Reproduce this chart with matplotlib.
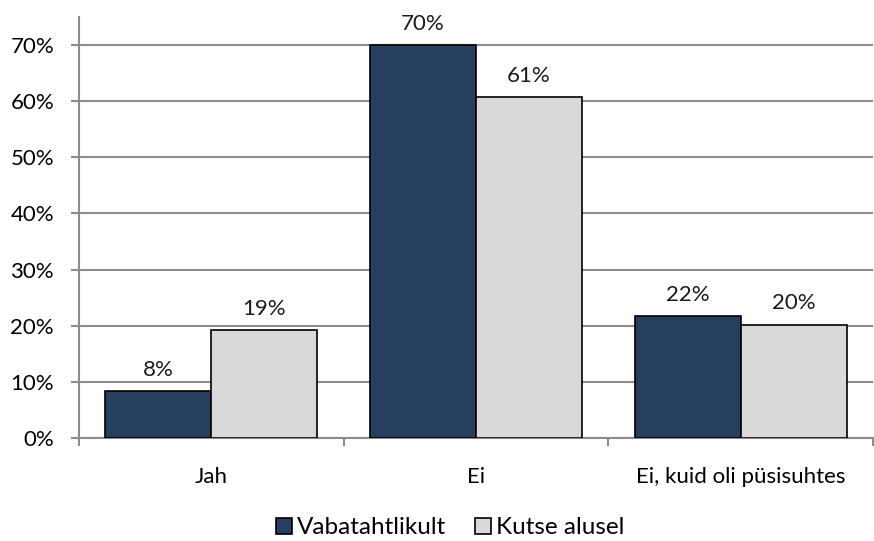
import matplotlib
matplotlib.use("Agg")
import matplotlib.pyplot as plt
import numpy as np

categories = ["Jah", "Ei", "Ei, kuid oli püsisuhtes"]
series_names = ["Vabatahtlikult", "Kutse alusel"]
vabatahtlikult = [8.4, 70.0, 21.7]
kutse_alusel = [19.2, 60.7, 20.2]
labels_v = ["8%", "70%", "22%"]
labels_k = ["19%", "61%", "20%"]
yticks = [0, 10, 20, 30, 40, 50, 60, 70]

plt.rcParams['font.family'] = ['Lato', 'DejaVu Sans']
FS = 16

fig = plt.figure(figsize=(8.74, 5.41), dpi=100)
ax = fig.add_axes([79/874, 1 - 438/541, (873-79)/874, (438-17)/541])

x = np.arange(len(categories))
w = 0.4
c1, c2 = "#263f5f", "#d9d9d9"
b1 = ax.bar(x - w/2, vabatahtlikult, w, color=c1, edgecolor="black", linewidth=1.2, zorder=3, label=series_names[0])
b2 = ax.bar(x + w/2, kutse_alusel, w, color=c2, edgecolor="black", linewidth=1.2, zorder=3, label=series_names[1])

for bars, labs in ((b1, labels_v), (b2, labels_k)):
    for r, t in zip(bars, labs):
        ax.annotate(t, (r.get_x() + r.get_width()/2, r.get_height()), xytext=(0, 8),
                    textcoords="offset points", ha="center", va="bottom", fontsize=FS, color="#1a1a1a")

ax.set_xlim(-0.5, 2.5)
ax.set_ylim(0, 75)
ax.set_yticks(yticks)
ax.set_yticklabels([f"{v}%" for v in yticks], fontsize=FS)
ax.yaxis.grid(True, color="#8c8c8c", linewidth=1.5, zorder=0)
ax.set_axisbelow(True)

ax.set_xticks([-0.5, 0.5, 1.5, 2.5])
ax.set_xticklabels([])
ax.set_xticks(x, minor=True)
ax.set_xticklabels(categories, minor=True, fontsize=FS)
ax.tick_params(axis="x", which="minor", length=0, pad=21)
ax.tick_params(axis="x", which="major", length=6, width=1.5, color="#8c8c8c", direction="out")
ax.tick_params(axis="y", length=6, width=1.5, color="#8c8c8c", pad=12)

for s in ["top", "right"]:
    ax.spines[s].set_visible(False)
for s in ["left", "bottom"]:
    ax.spines[s].set_color("#8c8c8c")
    ax.spines[s].set_linewidth(1.5)

fig.legend(handles=[b1, b2], labels=series_names, loc="center", bbox_to_anchor=(450/874, 1 - 528/541),
           ncol=2, frameon=False, fontsize=17.5, handlelength=0.65, handleheight=0.65,
           handletextpad=0.2, columnspacing=1.2, borderpad=0)

fig.savefig("out.png", dpi=100)
